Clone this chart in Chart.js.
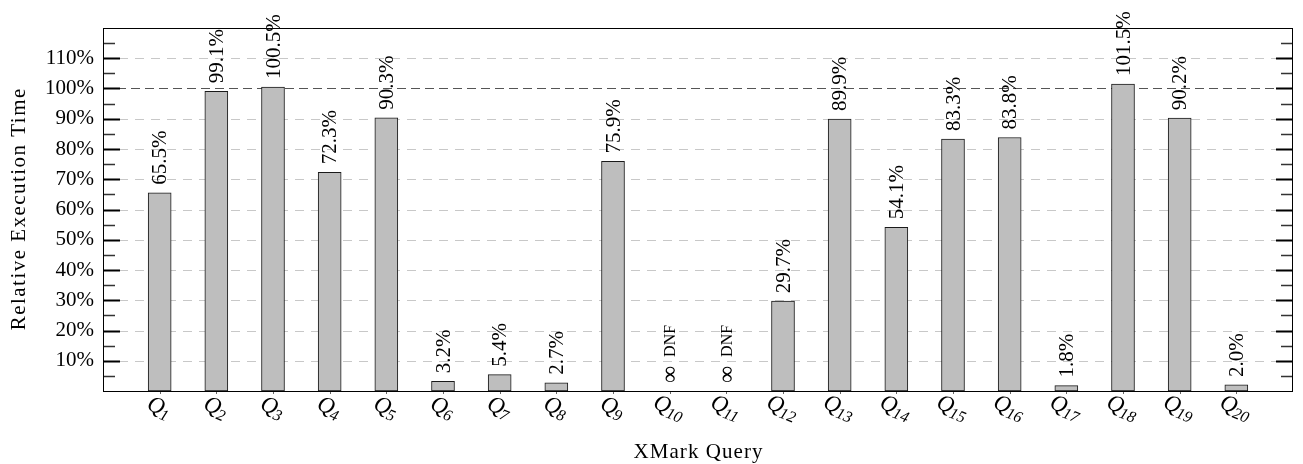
<!DOCTYPE html>
<html>
<head>
<meta charset="utf-8">
<script src="https://cdn.jsdelivr.net/npm/chart.js@4/dist/chart.umd.min.js"></script>
<style>
  body { margin: 0; background: #fff; }
  canvas { display: block; }
</style>
</head>
<body>
<canvas id="myChart" width="1303" height="464"></canvas>
<script>
// XMark queries and their relative execution time (null = did not finish)
const queries = ["1", "2", "3", "4", "5", "6", "7", "8", "9", "10",
  "11", "12", "13", "14", "15", "16", "17", "18", "19", "20"];
const relTime = [65.5, 99.1, 100.5, 72.3, 90.3, 3.2, 5.4, 2.7, 75.9, null,
  null, 29.7, 89.9, 54.1, 83.3, 83.8, 1.8, 101.5, 90.2, 2.0];
const dnf = [false, false, false, false, false, false, false, false, false, true,
  true, false, false, false, false, false, false, false, false, false];
const yTicks = [10, 20, 30, 40, 50, 60, 70, 80, 90, 100, 110];

const serif = "'Liberation Serif', 'DejaVu Serif', serif";

// empty slot at each end so Q1..Q20 sit at 1..20 on a 0..21 axis
const labels = [""].concat(queries.map((q) => "Q" + q), [""]);
const values = [null].concat(relTime, [null]);

// draw text stretched to a given length (latex fonts run wider than Times)
function spacedText(ctx, text, x, y, target) {
  ctx.letterSpacing = "0px";
  const w = ctx.measureText(text).width;
  const sp = Math.max(0, (target - w) / text.length);
  ctx.letterSpacing = sp.toFixed(2) + "px";
  ctx.fillText(text, x + sp / 2, y);
  ctx.letterSpacing = "0px";
}

const gridPlugin = {
  id: "gridPlugin",
  beforeDatasetsDraw(chart) {
    const ctx = chart.ctx;
    const area = chart.chartArea;
    const y = chart.scales.y;
    ctx.save();
    ctx.lineWidth = 1;
    yTicks.forEach((v) => {
      const py = Math.round(y.getPixelForValue(v)) + 0.5;
      ctx.strokeStyle = v === 100 ? "#555" : "#c8c8c8";
      ctx.setLineDash(v === 100 ? [9, 5] : [9, 7]);
      ctx.beginPath();
      ctx.moveTo(area.left, py);
      ctx.lineTo(area.right, py);
      ctx.stroke();
    });
    ctx.restore();
  },
};

const framePlugin = {
  id: "framePlugin",
  afterDatasetsDraw(chart) {
    const ctx = chart.ctx;
    const area = chart.chartArea;
    const y = chart.scales.y;
    const x = chart.scales.x;
    ctx.save();

    // inside ticks, both sides
    for (let v = 5; v < 120; v += 5) {
      const py = Math.round(y.getPixelForValue(v)) + 0.5;
      const major = v % 10 === 0;
      const len = major ? 17 : 12;
      ctx.lineWidth = major ? 2 : 1.3;
      ctx.strokeStyle = major ? "#000" : "#333";
      ctx.beginPath();
      ctx.moveTo(area.left, py);
      ctx.lineTo(area.left + len, py);
      ctx.moveTo(area.right, py);
      ctx.lineTo(area.right - len, py);
      ctx.stroke();
    }

    // small marks under the x axis
    ctx.lineWidth = 1;
    ctx.strokeStyle = "#666";
    queries.forEach((q, i) => {
      const px = Math.round(x.getPixelForValue(i + 1)) + 0.5;
      ctx.beginPath();
      ctx.moveTo(px, area.bottom);
      ctx.lineTo(px, area.bottom + 3);
      ctx.stroke();
    });

    // frame
    ctx.strokeStyle = "#000";
    ctx.lineWidth = 1;
    ctx.strokeRect(area.left + 0.5, area.top + 0.5, area.right - area.left - 1, area.bottom - area.top);

    // value labels above the bars
    const meta = chart.getDatasetMeta(0);
    ctx.fillStyle = "#000";
    ctx.textBaseline = "middle";
    ctx.textAlign = "left";
    relTime.forEach((v, i) => {
      const bar = meta.data[i + 1];
      const px = x.getPixelForValue(i + 1);
      ctx.save();
      if (dnf[i]) {
        ctx.translate(px + 1, y.getPixelForValue(0) - 8);
        ctx.rotate(-Math.PI / 2);
        ctx.font = "24px " + serif;
        ctx.fillText("\u221E", 0, 0);
        const w = ctx.measureText("\u221E").width;
        ctx.font = "16px " + serif;
        ctx.fillText("DNF", w + 9, 0);
      } else {
        ctx.translate(px + 1, bar.y - 8);
        ctx.rotate(-Math.PI / 2);
        ctx.font = "21px " + serif;
        ctx.fillText(v.toFixed(1) + "%", 0, 0);
      }
      ctx.restore();
    });

    ctx.restore();
  },
  afterDraw(chart) {
    const ctx = chart.ctx;
    const area = chart.chartArea;
    const x = chart.scales.x;
    ctx.save();
    ctx.fillStyle = "#000";
    ctx.textBaseline = "alphabetic";
    ctx.textAlign = "left";

    // rotated Q_n labels
    queries.forEach((q, i) => {
      const px = x.getPixelForValue(i + 1);
      ctx.save();
      ctx.translate(px, area.bottom + 16);
      ctx.rotate((22 * Math.PI) / 180);
      ctx.font = "italic 23px " + serif;
      const wQ = ctx.measureText("Q").width;
      ctx.font = "italic 16px " + serif;
      const wN = ctx.measureText(q).width;
      const start = -(wQ + wN) / 2;
      ctx.font = "italic 23px " + serif;
      ctx.fillText("Q", start, 7);
      ctx.font = "italic 16px " + serif;
      ctx.fillText(q, start + wQ - 1, 11);
      ctx.restore();
    });

    // axis titles
    ctx.font = "21px " + serif;
    ctx.textAlign = "center";
    ctx.textBaseline = "middle";
    spacedText(ctx, "XMark Query", (area.left + area.right) / 2, 452, 130);
    ctx.save();
    ctx.translate(19, (area.top + area.bottom) / 2);
    ctx.rotate(-Math.PI / 2);
    spacedText(ctx, "Relative Execution Time", 0, 0, 243);
    ctx.restore();

    ctx.restore();
  },
};

const config = {
  type: "bar",
  data: {
    labels: labels,
    datasets: [
      {
        data: values,
        backgroundColor: "#bebebe",
        borderColor: "#1a1a1a",
        borderWidth: 1,
        borderSkipped: false,
        barThickness: 23,
      },
    ],
  },
  options: {
    responsive: false,
    animation: false,
    events: [],
    layout: {
      padding: { left: 0, right: 10, top: 28, bottom: 0 },
    },
    plugins: {
      legend: { display: false },
      tooltip: { enabled: false },
    },
    scales: {
      x: {
        type: "category",
        offset: false,
        grid: { display: false, drawTicks: false },
        border: { display: false },
        ticks: { display: false },
        afterFit(scale) {
          scale.height = 73;
        },
      },
      y: {
        min: 0,
        max: 120,
        grid: { display: false, drawTicks: false },
        border: { display: false },
        ticks: {
          stepSize: 10,
          padding: 9,
          color: "#000",
          font: { family: serif, size: 21 },
          callback: (v) => (yTicks.includes(v) ? v + "%" : null),
        },
        afterFit(scale) {
          scale.width = 103;
        },
      },
    },
  },
  plugins: [gridPlugin, framePlugin],
};

const myChart = new Chart(document.getElementById("myChart").getContext("2d"), config);
</script>
</body>
</html>
